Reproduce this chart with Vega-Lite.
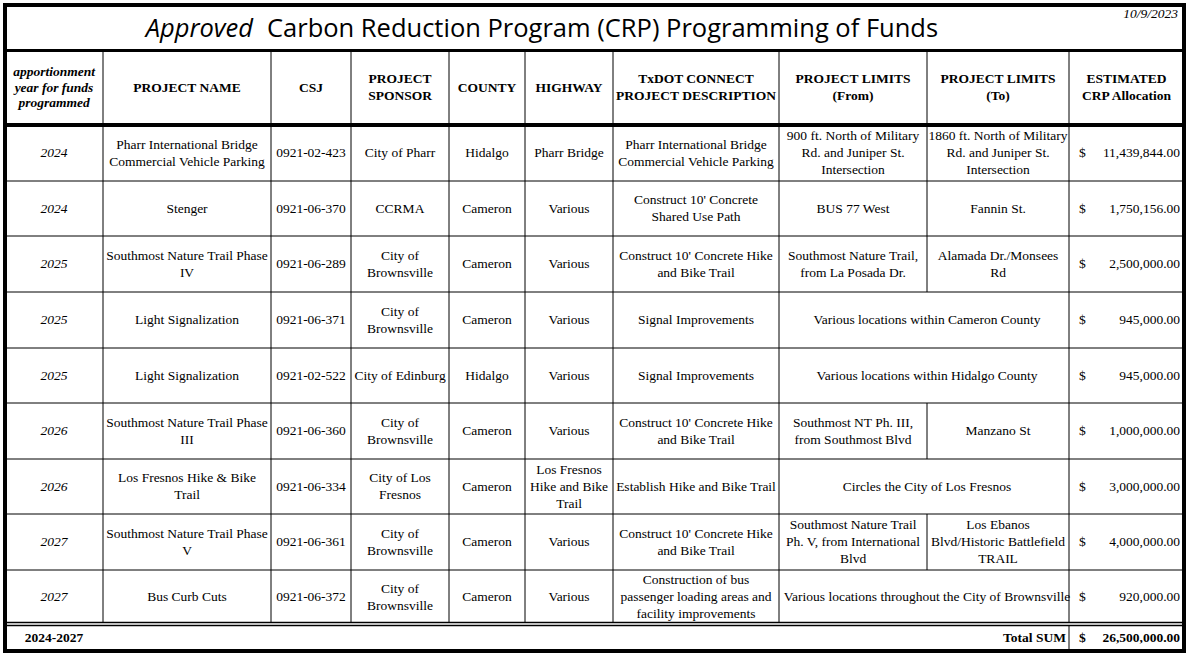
{
  "$schema": "https://vega.github.io/schema/vega-lite/v6.json",
  "width": 1190,
  "height": 658,
  "autosize": "none",
  "padding": 0,
  "background": "white",
  "config": {"view": {"stroke": null}},
  "datasets": {
    "frame": [{"x1": 0.5, "x2": 10.5, "y1": -1.5, "y2": 10.5}],
    "hlines": [
      {"y": -0.5, "x1": 0.5, "x2": 10.5, "kind": "title"},
      {"y": 0.5, "x1": 0.5, "x2": 10.5, "kind": "header"},
      {"y": 1.5, "x1": 0.5, "x2": 10.5, "kind": "thin"},
      {"y": 2.5, "x1": 0.5, "x2": 10.5, "kind": "thin"},
      {"y": 3.5, "x1": 0.5, "x2": 10.5, "kind": "thin"},
      {"y": 4.5, "x1": 0.5, "x2": 10.5, "kind": "thin"},
      {"y": 5.5, "x1": 0.5, "x2": 10.5, "kind": "thin"},
      {"y": 6.5, "x1": 0.5, "x2": 10.5, "kind": "thin"},
      {"y": 7.5, "x1": 0.5, "x2": 10.5, "kind": "thin"},
      {"y": 8.5, "x1": 0.5, "x2": 10.5, "kind": "thin"},
      {"y": 9.5, "x1": 0.5, "x2": 10.5, "kind": "double"}
    ],
    "vlines": [
      {"x": 1.5, "y1": -0.5, "y2": 9.5},
      {"x": 2.5, "y1": -0.5, "y2": 9.5},
      {"x": 3.5, "y1": -0.5, "y2": 9.5},
      {"x": 4.5, "y1": -0.5, "y2": 9.5},
      {"x": 5.5, "y1": -0.5, "y2": 9.5},
      {"x": 6.5, "y1": -0.5, "y2": 9.5},
      {"x": 7.5, "y1": -0.5, "y2": 9.5},
      {"x": 8.5, "y1": -0.5, "y2": 3.5},
      {"x": 8.5, "y1": 5.5, "y2": 6.5},
      {"x": 8.5, "y1": 7.5, "y2": 8.5},
      {"x": 9.5, "y1": -0.5, "y2": 10.5}
    ],
    "title": [
      {"part": "Approved", "x": 2.5, "y": -1},
      {"part": "Carbon Reduction Program (CRP) Programming of Funds", "x": 2.5, "y": -1}
    ],
    "date": [{"text": "10/9/2023", "x": 10.5, "y": -1.5}],
    "cells": [
      {"row": 0, "col": 1, "text": "apportionment\nyear for funds\nprogrammed"},
      {"row": 0, "col": 2, "text": "PROJECT NAME"},
      {"row": 0, "col": 3, "text": "CSJ"},
      {"row": 0, "col": 4, "text": "PROJECT\nSPONSOR"},
      {"row": 0, "col": 5, "text": "COUNTY"},
      {"row": 0, "col": 6, "text": "HIGHWAY"},
      {"row": 0, "col": 7, "text": "TxDOT CONNECT\nPROJECT DESCRIPTION"},
      {"row": 0, "col": 8, "text": "PROJECT LIMITS\n(From)"},
      {"row": 0, "col": 9, "text": "PROJECT LIMITS\n(To)"},
      {"row": 0, "col": 10, "text": "ESTIMATED\nCRP Allocation"},

      {"row": 1, "col": 1, "text": "2024"},
      {"row": 1, "col": 2, "text": "Pharr International Bridge\nCommercial Vehicle Parking"},
      {"row": 1, "col": 3, "text": "0921-02-423"},
      {"row": 1, "col": 4, "text": "City of Pharr"},
      {"row": 1, "col": 5, "text": "Hidalgo"},
      {"row": 1, "col": 6, "text": "Pharr Bridge"},
      {"row": 1, "col": 7, "text": "Pharr International Bridge\nCommercial Vehicle Parking"},
      {"row": 1, "col": 8, "text": "900 ft. North of Military\nRd. and Juniper St.\nIntersection"},
      {"row": 1, "col": 9, "text": "1860 ft. North of Military\nRd. and Juniper St.\nIntersection"},

      {"row": 2, "col": 1, "text": "2024"},
      {"row": 2, "col": 2, "text": "Stenger"},
      {"row": 2, "col": 3, "text": "0921-06-370"},
      {"row": 2, "col": 4, "text": "CCRMA"},
      {"row": 2, "col": 5, "text": "Cameron"},
      {"row": 2, "col": 6, "text": "Various"},
      {"row": 2, "col": 7, "text": "Construct 10' Concrete\nShared Use Path"},
      {"row": 2, "col": 8, "text": "BUS 77 West"},
      {"row": 2, "col": 9, "text": "Fannin St."},

      {"row": 3, "col": 1, "text": "2025"},
      {"row": 3, "col": 2, "text": "Southmost Nature Trail Phase\nIV"},
      {"row": 3, "col": 3, "text": "0921-06-289"},
      {"row": 3, "col": 4, "text": "City of\nBrownsville"},
      {"row": 3, "col": 5, "text": "Cameron"},
      {"row": 3, "col": 6, "text": "Various"},
      {"row": 3, "col": 7, "text": "Construct 10' Concrete Hike\nand Bike Trail"},
      {"row": 3, "col": 8, "text": "Southmost Nature Trail,\nfrom  La Posada Dr."},
      {"row": 3, "col": 9, "text": "Alamada Dr./Monsees\nRd"},

      {"row": 4, "col": 1, "text": "2025"},
      {"row": 4, "col": 2, "text": "Light Signalization"},
      {"row": 4, "col": 3, "text": "0921-06-371"},
      {"row": 4, "col": 4, "text": "City of\nBrownsville"},
      {"row": 4, "col": 5, "text": "Cameron"},
      {"row": 4, "col": 6, "text": "Various"},
      {"row": 4, "col": 7, "text": "Signal Improvements"},
      {"row": 4, "col": 8.5, "text": "Various locations within Cameron County"},

      {"row": 5, "col": 1, "text": "2025"},
      {"row": 5, "col": 2, "text": "Light Signalization"},
      {"row": 5, "col": 3, "text": "0921-02-522"},
      {"row": 5, "col": 4, "text": "City of Edinburg"},
      {"row": 5, "col": 5, "text": "Hidalgo"},
      {"row": 5, "col": 6, "text": "Various"},
      {"row": 5, "col": 7, "text": "Signal Improvements"},
      {"row": 5, "col": 8.5, "text": "Various locations within Hidalgo County"},

      {"row": 6, "col": 1, "text": "2026"},
      {"row": 6, "col": 2, "text": "Southmost Nature Trail Phase\nIII"},
      {"row": 6, "col": 3, "text": "0921-06-360"},
      {"row": 6, "col": 4, "text": "City of\nBrownsville"},
      {"row": 6, "col": 5, "text": "Cameron"},
      {"row": 6, "col": 6, "text": "Various"},
      {"row": 6, "col": 7, "text": "Construct 10' Concrete Hike\nand Bike Trail"},
      {"row": 6, "col": 8, "text": "Southmost NT Ph. III,\nfrom Southmost Blvd"},
      {"row": 6, "col": 9, "text": "Manzano St"},

      {"row": 7, "col": 1, "text": "2026"},
      {"row": 7, "col": 2, "text": "Los Fresnos Hike & Bike\nTrail"},
      {"row": 7, "col": 3, "text": "0921-06-334"},
      {"row": 7, "col": 4, "text": "City of Los\nFresnos"},
      {"row": 7, "col": 5, "text": "Cameron"},
      {"row": 7, "col": 6, "text": "Los Fresnos\nHike and Bike\nTrail"},
      {"row": 7, "col": 7, "text": "Establish Hike and Bike Trail"},
      {"row": 7, "col": 8.5, "text": "Circles the City of Los Fresnos"},

      {"row": 8, "col": 1, "text": "2027"},
      {"row": 8, "col": 2, "text": "Southmost Nature Trail Phase\nV"},
      {"row": 8, "col": 3, "text": "0921-06-361"},
      {"row": 8, "col": 4, "text": "City of\nBrownsville"},
      {"row": 8, "col": 5, "text": "Cameron"},
      {"row": 8, "col": 6, "text": "Various"},
      {"row": 8, "col": 7, "text": "Construct 10' Concrete Hike\nand Bike Trail"},
      {"row": 8, "col": 8, "text": "Southmost Nature Trail\nPh. V, from International\nBlvd"},
      {"row": 8, "col": 9, "text": "Los Ebanos\nBlvd/Historic Battlefield\nTRAIL"},

      {"row": 9, "col": 1, "text": "2027"},
      {"row": 9, "col": 2, "text": "Bus Curb Cuts"},
      {"row": 9, "col": 3, "text": "0921-06-372"},
      {"row": 9, "col": 4, "text": "City of\nBrownsville"},
      {"row": 9, "col": 5, "text": "Cameron"},
      {"row": 9, "col": 6, "text": "Various"},
      {"row": 9, "col": 7, "text": "Construction of bus\npassenger loading areas and\nfacility improvements"},
      {"row": 9, "col": 8.5, "text": "Various locations throughout the City of Brownsville"},

      {"row": 10, "col": 1, "text": "2024-2027"}
    ],
    "alloc": [
      {"row": 1, "amount": 11439844},
      {"row": 2, "amount": 1750156},
      {"row": 3, "amount": 2500000},
      {"row": 4, "amount": 945000},
      {"row": 5, "amount": 945000},
      {"row": 6, "amount": 1000000},
      {"row": 7, "amount": 3000000},
      {"row": 8, "amount": 4000000},
      {"row": 9, "amount": 920000},
      {"row": 10, "amount": 26500000, "label": "Total SUM"}
    ]
  },
  "layer": [
    {
      "data": {"name": "hlines"},
      "transform": [{"filter": "datum.kind === 'thin'"}],
      "mark": {"type": "rule", "color": "black", "strokeWidth": 1},
      "encoding": {
        "x": {"field": "x1", "type": "quantitative", "axis": null,
              "scale": {"domain": [0.5, 1.5, 2.5, 3.5, 4.5, 5.5, 6.5, 7.5, 8.5, 9.5, 10.5],
                        "range": [5, 103, 271, 351, 449, 525, 613, 779, 927, 1069, 1184],
                        "zero": false, "nice": false}},
        "x2": {"field": "x2"},
        "y": {"field": "y", "type": "quantitative", "axis": null,
              "scale": {"domain": [-1.5, -0.5, 0.5, 1.5, 2.5, 3.5, 4.5, 5.5, 6.5, 7.5, 8.5, 9.5, 10.5],
                        "range": [5, 50.5, 125, 181, 236, 292, 348, 403, 459, 514, 570, 624, 651],
                        "zero": false, "nice": false}}
      }
    },
    {
      "data": {"name": "vlines"},
      "mark": {"type": "rule", "color": "black", "strokeWidth": 1},
      "encoding": {
        "x": {"field": "x", "type": "quantitative"},
        "y": {"field": "y1", "type": "quantitative"},
        "y2": {"field": "y2"}
      }
    },
    {
      "data": {"name": "hlines"},
      "transform": [{"filter": "datum.kind === 'title'"}],
      "mark": {"type": "rule", "color": "black", "strokeWidth": 3},
      "encoding": {
        "x": {"field": "x1", "type": "quantitative"},
        "x2": {"field": "x2"},
        "y": {"field": "y", "type": "quantitative"}
      }
    },
    {
      "data": {"name": "hlines"},
      "transform": [{"filter": "datum.kind === 'header'"}],
      "mark": {"type": "rule", "color": "black", "strokeWidth": 4},
      "encoding": {
        "x": {"field": "x1", "type": "quantitative"},
        "x2": {"field": "x2"},
        "y": {"field": "y", "type": "quantitative"}
      }
    },
    {
      "data": {"name": "hlines"},
      "transform": [{"filter": "datum.kind === 'double'"}],
      "mark": {"type": "rule", "color": "black", "strokeWidth": 4.5},
      "encoding": {
        "x": {"field": "x1", "type": "quantitative"},
        "x2": {"field": "x2"},
        "y": {"field": "y", "type": "quantitative"}
      }
    },
    {
      "data": {"name": "hlines"},
      "transform": [{"filter": "datum.kind === 'double'"}],
      "mark": {"type": "rule", "color": "white", "strokeWidth": 1.5},
      "encoding": {
        "x": {"field": "x1", "type": "quantitative"},
        "x2": {"field": "x2"},
        "y": {"field": "y", "type": "quantitative"}
      }
    },
    {
      "data": {"name": "frame"},
      "mark": {"type": "rect", "fill": null, "fillOpacity": 0, "stroke": "black", "strokeWidth": 4},
      "encoding": {
        "x": {"field": "x1", "type": "quantitative"},
        "x2": {"field": "x2"},
        "y": {"field": "y1", "type": "quantitative"},
        "y2": {"field": "y2"}
      }
    },
    {
      "data": {"name": "title"},
      "transform": [{"filter": "datum.part === 'Approved'"}],
      "mark": {"type": "text", "font": "Open Sans", "fontSize": 25.5, "fontStyle": "italic", "align": "right", "baseline": "middle", "dx": -18, "dy": 1, "color": "black"},
      "encoding": {
        "x": {"field": "x", "type": "quantitative"},
        "y": {"field": "y", "type": "quantitative"},
        "text": {"field": "part"}
      }
    },
    {
      "data": {"name": "title"},
      "transform": [{"filter": "datum.part !== 'Approved'"}],
      "mark": {"type": "text", "font": "Open Sans", "fontSize": 25.5, "align": "left", "baseline": "middle", "dx": -4, "dy": 1, "color": "black"},
      "encoding": {
        "x": {"field": "x", "type": "quantitative"},
        "y": {"field": "y", "type": "quantitative"},
        "text": {"field": "part"}
      }
    },
    {
      "data": {"name": "date"},
      "mark": {"type": "text", "font": "Liberation Serif", "fontSize": 13.5, "fontStyle": "italic", "align": "right", "baseline": "top", "dx": -6, "dy": 2, "color": "black"},
      "encoding": {
        "x": {"field": "x", "type": "quantitative"},
        "y": {"field": "y", "type": "quantitative"},
        "text": {"field": "text"}
      }
    },
    {
      "data": {"name": "cells"},
      "transform": [{"filter": "datum.row === 0 && datum.col === 1"}],
      "mark": {"type": "text", "font": "Liberation Serif", "fontSize": 13.5, "fontStyle": "italic", "fontWeight": "bold", "lineBreak": "\n", "lineHeight": 15.5, "align": "center", "baseline": "middle", "dy": -15.5, "color": "black"},
      "encoding": {
        "x": {"field": "col", "type": "quantitative"},
        "y": {"field": "row", "type": "quantitative"},
        "text": {"field": "text"}
      }
    },
    {
      "data": {"name": "cells"},
      "transform": [{"filter": "((datum.row === 0 && datum.col !== 1) || datum.row === 10) && length(split(datum.text, '\\n')) === 1"}],
      "mark": {"type": "text", "font": "Liberation Serif", "fontSize": 13.5, "fontWeight": "bold", "align": "center", "baseline": "middle", "color": "black"},
      "encoding": {
        "x": {"field": "col", "type": "quantitative"},
        "y": {"field": "row", "type": "quantitative"},
        "text": {"field": "text"}
      }
    },
    {
      "data": {"name": "cells"},
      "transform": [{"filter": "datum.row === 0 && datum.col !== 1 && length(split(datum.text, '\\n')) === 2"}],
      "mark": {"type": "text", "font": "Liberation Serif", "fontSize": 13.5, "fontWeight": "bold", "lineBreak": "\n", "lineHeight": 17, "align": "center", "baseline": "middle", "dy": -8.5, "color": "black"},
      "encoding": {
        "x": {"field": "col", "type": "quantitative"},
        "y": {"field": "row", "type": "quantitative"},
        "text": {"field": "text"}
      }
    },
    {
      "data": {"name": "cells"},
      "transform": [{"filter": "datum.row >= 1 && datum.row <= 9 && datum.col === 1"}],
      "mark": {"type": "text", "font": "Liberation Serif", "fontSize": 13.5, "fontStyle": "italic", "align": "center", "baseline": "middle", "color": "black"},
      "encoding": {
        "x": {"field": "col", "type": "quantitative"},
        "y": {"field": "row", "type": "quantitative"},
        "text": {"field": "text"}
      }
    },
    {
      "data": {"name": "cells"},
      "transform": [{"filter": "datum.row >= 1 && datum.row <= 9 && datum.col !== 1 && length(split(datum.text, '\\n')) === 1"}],
      "mark": {"type": "text", "font": "Liberation Serif", "fontSize": 13.5, "align": "center", "baseline": "middle", "color": "black"},
      "encoding": {
        "x": {"field": "col", "type": "quantitative"},
        "y": {"field": "row", "type": "quantitative"},
        "text": {"field": "text"}
      }
    },
    {
      "data": {"name": "cells"},
      "transform": [{"filter": "datum.row >= 1 && datum.row <= 9 && datum.col !== 1 && length(split(datum.text, '\\n')) === 2"}],
      "mark": {"type": "text", "font": "Liberation Serif", "fontSize": 13.5, "lineBreak": "\n", "lineHeight": 17, "align": "center", "baseline": "middle", "dy": -8.5, "color": "black"},
      "encoding": {
        "x": {"field": "col", "type": "quantitative"},
        "y": {"field": "row", "type": "quantitative"},
        "text": {"field": "text"}
      }
    },
    {
      "data": {"name": "cells"},
      "transform": [{"filter": "datum.row >= 1 && datum.row <= 9 && datum.col !== 1 && length(split(datum.text, '\\n')) === 3"}],
      "mark": {"type": "text", "font": "Liberation Serif", "fontSize": 13.5, "lineBreak": "\n", "lineHeight": 17, "align": "center", "baseline": "middle", "dy": -17, "color": "black"},
      "encoding": {
        "x": {"field": "col", "type": "quantitative"},
        "y": {"field": "row", "type": "quantitative"},
        "text": {"field": "text"}
      }
    },
    {
      "data": {"name": "alloc"},
      "transform": [{"filter": "datum.row <= 9"}],
      "mark": {"type": "text", "font": "Liberation Serif", "fontSize": 13.5, "align": "left", "baseline": "middle", "dx": 10, "color": "black"},
      "encoding": {
        "x": {"datum": 9.5, "type": "quantitative"},
        "y": {"field": "row", "type": "quantitative"},
        "text": {"value": "$"}
      }
    },
    {
      "data": {"name": "alloc"},
      "transform": [{"filter": "datum.row <= 9"}],
      "mark": {"type": "text", "font": "Liberation Serif", "fontSize": 13.5, "align": "right", "baseline": "middle", "dx": -4, "color": "black"},
      "encoding": {
        "x": {"datum": 10.5, "type": "quantitative"},
        "y": {"field": "row", "type": "quantitative"},
        "text": {"field": "amount", "type": "quantitative", "format": ",.2f"}
      }
    },
    {
      "data": {"name": "alloc"},
      "transform": [{"filter": "datum.row === 10"}],
      "mark": {"type": "text", "font": "Liberation Serif", "fontSize": 13.5, "fontWeight": "bold", "align": "left", "baseline": "middle", "dx": 10, "color": "black"},
      "encoding": {
        "x": {"datum": 9.5, "type": "quantitative"},
        "y": {"field": "row", "type": "quantitative"},
        "text": {"value": "$"}
      }
    },
    {
      "data": {"name": "alloc"},
      "transform": [{"filter": "datum.row === 10"}],
      "mark": {"type": "text", "font": "Liberation Serif", "fontSize": 13.5, "fontWeight": "bold", "align": "right", "baseline": "middle", "dx": -4, "color": "black"},
      "encoding": {
        "x": {"datum": 10.5, "type": "quantitative"},
        "y": {"field": "row", "type": "quantitative"},
        "text": {"field": "amount", "type": "quantitative", "format": ",.2f"}
      }
    },
    {
      "data": {"name": "alloc"},
      "transform": [{"filter": "datum.row === 10"}],
      "mark": {"type": "text", "font": "Liberation Serif", "fontSize": 13.5, "fontWeight": "bold", "align": "right", "baseline": "middle", "dx": -3, "color": "black"},
      "encoding": {
        "x": {"datum": 9.5, "type": "quantitative"},
        "y": {"field": "row", "type": "quantitative"},
        "text": {"field": "label"}
      }
    }
  ]
}
